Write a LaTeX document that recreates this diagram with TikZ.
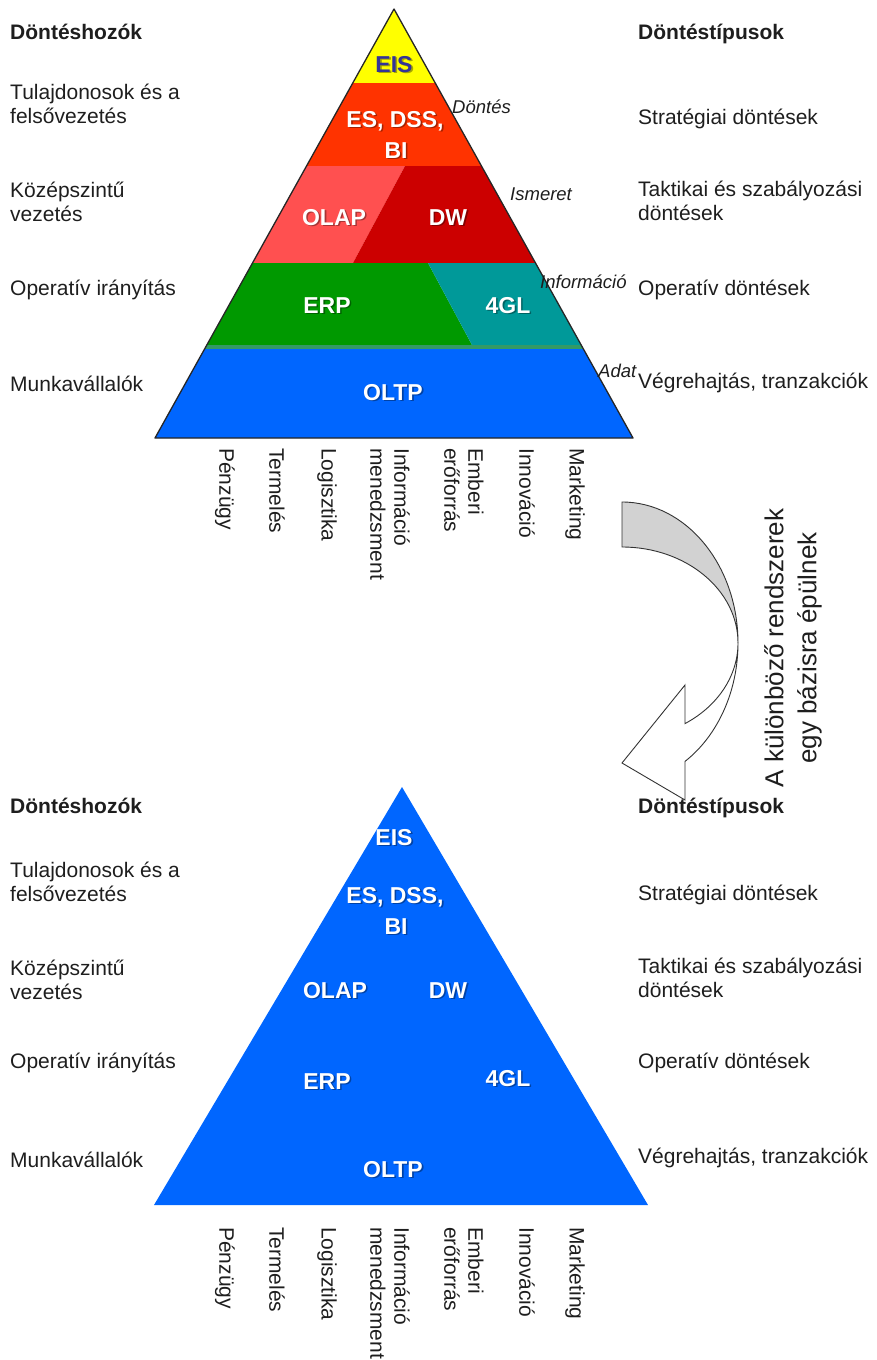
\documentclass[tikz,border=0pt]{standalone}
\usepackage{fontspec}
\setmainfont{Liberation Sans}
\definecolor{cEIS}{HTML}{FFFF00}
\definecolor{cES}{HTML}{FF3300}
\definecolor{cOLAP}{HTML}{FF5050}
\definecolor{cDW}{HTML}{CC0000}
\definecolor{cERP}{HTML}{009900}
\definecolor{cFGL}{HTML}{009999}
\definecolor{cStrip}{HTML}{339966}
\definecolor{cOLTP}{HTML}{0066FF}
\definecolor{cEIStext}{HTML}{333399}
\definecolor{cArrow}{HTML}{D2D2D2}
\definecolor{cText}{HTML}{1E1E1E}
% pyramid caption with a soft drop shadow: name, x, y, text, extra style
\newcommand{\pyrtext}[5]{%
  \node[pyrshadow] at (#2+1.6,#3+1.6) {#4};
  \node[pyrtxt,#5] (#1) at (#2,#3) {#4};}
\begin{document}
\begin{tikzpicture}[x=1pt,y=-1pt,
  lbl/.style={font=\fontsize{21}{24}\selectfont, inner sep=0pt, anchor=base west, align=left, text=cText},
  head/.style={lbl, font=\bfseries\fontsize{21}{24}\selectfont},
  itl/.style={font=\itshape\fontsize{18.5}{20}\selectfont, inner sep=0pt, anchor=base west, text=cText},
  vlab/.style={font=\fontsize{21}{24}\selectfont, inner sep=0pt, anchor=west, rotate=-90, align=left, text=cText},
  pyrtxt/.style={font=\bfseries\fontsize{23}{28}\selectfont, inner sep=0pt, anchor=base, text=white},
  pyrshadow/.style={pyrtxt, text=black, text opacity=0.35},
  pyredge/.style={draw=black!85, line width=1.3pt, line join=round},
  arrowline/.style={draw=black!80, line width=0.9pt, line join=miter}]
\useasboundingbox (0,0) rectangle (876,1360);

% ---------- upper pyramid: layered systems ----------
\coordinate (tA) at (394,9);
\coordinate (tL) at (155,438);
\coordinate (tR) at (633,438);
\begin{scope}
  \clip (tA) -- (tL) -- (tR) -- cycle;
  \fill[cEIS] (100,0) rectangle (700,83);
  \fill[cES] (100,83) rectangle (700,166);
  \fill[cOLAP] (100,166) -- (405,166) -- (353,263) -- (100,263) -- cycle;
  \fill[cDW] (405,166) -- (700,166) -- (700,263) -- (353,263) -- cycle;
  \fill[cERP] (100,263) -- (428,263) -- (472,345) -- (100,345) -- cycle;
  \fill[cFGL] (428,263) -- (700,263) -- (700,345) -- (472,345) -- cycle;
  \fill[cStrip] (100,345) rectangle (700,349);
  \fill[cOLTP] (100,349) rectangle (700,445);
\end{scope}
\draw[pyredge] (tA) -- (tL) -- (tR) -- cycle;

\pyrtext{tEIS}{394}{72}{EIS}{text=cEIStext}
\pyrtext{tES}{395}{127}{ES, DSS,}{}
\pyrtext{tBI}{396}{158}{BI}{}
\pyrtext{tOLAP}{334}{225}{OLAP}{}
\pyrtext{tDW}{448}{225}{DW}{}
\pyrtext{tERP}{327}{313}{ERP}{}
\pyrtext{tFGL}{508}{313}{4GL}{}
\pyrtext{tOLTP}{393}{400}{OLTP}{}

% knowledge levels along the right edge
\node[itl] (kDontes) at (452,113) {Döntés};
\node[itl] (kIsmeret) at (510,200) {Ismeret};
\node[itl] (kInfo) at (540,288) {Információ};
\node[itl] (kAdat) at (598,377) {Adat};

% decision makers (left) and decision types (right); two-line labels sit on their last baseline
\node[head] (tLh) at (10,39) {Döntéshozók};
\node[lbl] (tL1) at (10,123) {Tulajdonosok és a\\felsővezetés};
\node[lbl] (tL2) at (10,221) {Középszintű\\vezetés};
\node[lbl] (tL3) at (10,295) {Operatív irányítás};
\node[lbl] (tL4) at (10,391) {Munkavállalók};
\node[head] (tRh) at (638,39) {Döntéstípusok};
\node[lbl] (tR1) at (638,124) {Stratégiai döntések};
\node[lbl] (tR2) at (638,220) {Taktikai és szabályozási\\döntések};
\node[lbl] (tR3) at (638,295) {Operatív döntések};
\node[lbl] (tR4) at (638,388) {Végrehajtás, tranzakciók};

% functional areas under the base
\node[vlab] (tF1) at (225,448) {Pénzügy};
\node[vlab] (tF2) at (277,448) {Termelés};
\node[vlab] (tF3) at (327,448) {Logisztika};
\node[vlab] (tF4) at (390,448) {Információ\\menedzsment};
\node[vlab] (tF5) at (464,448) {Emberi\\erőforrás};
\node[vlab] (tF6) at (527,448) {Innováció};
\node[vlab] (tF7) at (575,448) {Marketing};

% ---------- curved transition arrow ----------
\filldraw[arrowline, fill=cArrow]
  (622,502) arc[start angle=-90, end angle=0, x radius=116, y radius=141]
  arc[start angle=0, end angle=-90, x radius=116, y radius=96] -- cycle;
\filldraw[arrowline, fill=white]
  (738,643) arc[start angle=0, end angle=57.1, x radius=116, y radius=141]
  -- (685,800) -- (622,763) -- (685,685) -- (685,723.6)
  arc[start angle=57.1, end angle=0, x radius=116, y radius=96] -- cycle;
\node[font=\fontsize{26}{33}\selectfont, rotate=90, align=center, inner sep=0pt, text=cText]
  (note) at (793,648) {A különböző rendszerek\\egy bázisra épülnek};

% ---------- lower pyramid: one common base ----------
\coordinate (bA) at (402,787);
\coordinate (bL) at (154,1205);
\coordinate (bR) at (648,1205);
\fill[cOLTP] (bA) -- (bL) -- (bR) -- cycle;

\pyrtext{bEIS}{394}{845}{EIS}{}
\pyrtext{bES}{395}{903}{ES, DSS,}{}
\pyrtext{bBI}{396}{934}{BI}{}
\pyrtext{bOLAP}{335}{998}{OLAP}{}
\pyrtext{bDW}{448}{998}{DW}{}
\pyrtext{bERP}{327}{1089}{ERP}{}
\pyrtext{bFGL}{508}{1086}{4GL}{}
\pyrtext{bOLTP}{393}{1177}{OLTP}{}

\node[head] (bLh) at (10,813) {Döntéshozók};
\node[lbl] (bL1) at (10,901) {Tulajdonosok és a\\felsővezetés};
\node[lbl] (bL2) at (10,999) {Középszintű\\vezetés};
\node[lbl] (bL3) at (10,1068) {Operatív irányítás};
\node[lbl] (bL4) at (10,1167) {Munkavállalók};
\node[head] (bRh) at (638,813) {Döntéstípusok};
\node[lbl] (bR1) at (638,900) {Stratégiai döntések};
\node[lbl] (bR2) at (638,997) {Taktikai és szabályozási\\döntések};
\node[lbl] (bR3) at (638,1068) {Operatív döntések};
\node[lbl] (bR4) at (638,1163) {Végrehajtás, tranzakciók};

\node[vlab] (bF1) at (225,1227) {Pénzügy};
\node[vlab] (bF2) at (277,1227) {Termelés};
\node[vlab] (bF3) at (327,1227) {Logisztika};
\node[vlab] (bF4) at (390,1227) {Információ\\menedzsment};
\node[vlab] (bF5) at (464,1227) {Emberi\\erőforrás};
\node[vlab] (bF6) at (527,1227) {Innováció};
\node[vlab] (bF7) at (575,1227) {Marketing};
\end{tikzpicture}
\end{document}
